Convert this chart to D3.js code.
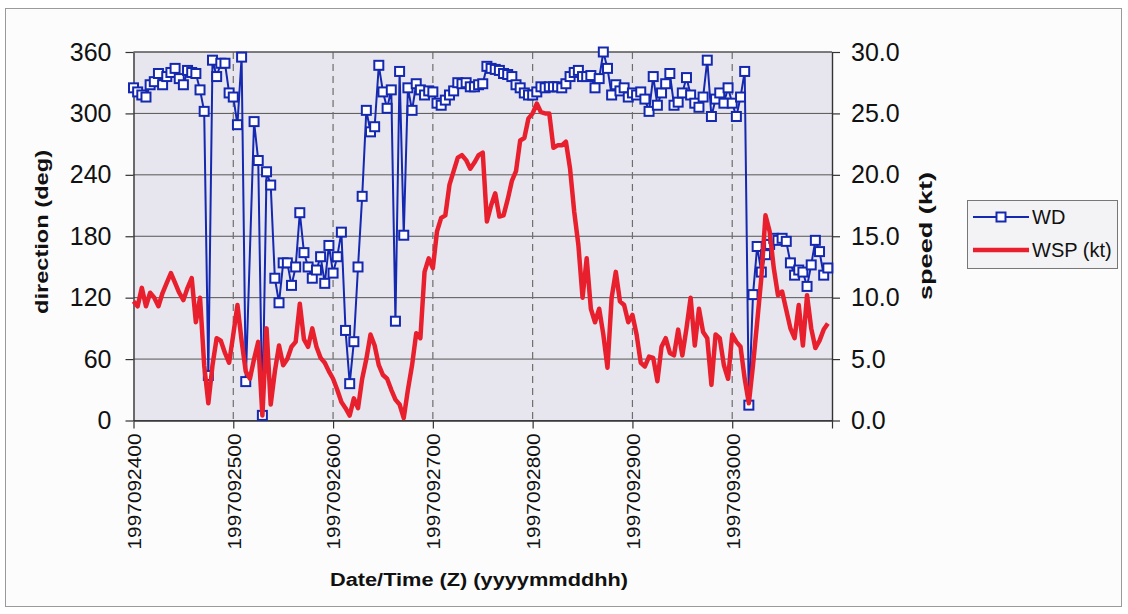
<!DOCTYPE html>
<html>
<head>
<meta charset="utf-8">
<script src="https://cdn.jsdelivr.net/npm/d3@7"></script>
<style>
  body { margin: 0; background: #ffffff; }
  svg { display: block; font-family: Arial, "Liberation Sans", sans-serif; }
</style>
</head>
<body>
<svg id="chart" width="1128" height="614"></svg>
<script>
// Hourly observations, 1997-09-24 00Z to 1997-09-30 23Z
const dayTicks = ["1997092400", "1997092500", "1997092600", "1997092700",
                  "1997092800", "1997092900", "1997093000", ""];

// Wind direction (deg), one value per hour; null = no report
const wd = [
  325, 321, 318, 316, 328, 331, 339, 328, 336, 340,
  344, 334, 328, 342, 340, 339, 323, 302, 44, 352,
  336, 349, 349, 320, 316, 289, 355, 38, null, 292,
  254, 5, 243, 230, 139, 115, 154, 154, 132, 150,
  203, 164, 150, 139, 147, 160, 134, 171, 144, 160,
  184, 88, 36, 77, 150, 219, 303, 282, 287, 347,
  321, 305, 323, 97, 341, 181, 325, 303, 329, 323,
  318, 322, 321, 310, 308, 313, 318, 322, 330, 329,
  330, 326, 326, 328, 329, 346, 344, 343, 342, 339,
  338, 336, 328, 325, 320, 318, 318, 321, 326, 325,
  326, 326, 326, 325, 329, 336, 340, 342, 336, 336,
  337, 325, 334, 360, 344, 318, 328, 322, 325, 316,
  320, 318, 321, 314, 302, 336, 308, 320, 329, 339,
  308, 311, 320, 335, 318, 310, 306, 316, 352, 297,
  314, 320, 310, 325, 310, 297, 316, 341, 15, 123,
  170, 145, 162, 172, 178, 176, 178, 175, 154, 142,
  147, 145, 131, 152, 176, 165, 142, 149
];

// Wind speed (kt), one value per hour
const wsp = [
  9.7, 9.3, 10.8, 9.3, 10.4, 10.0, 9.3, 10.4, 11.2, 12.0,
  11.2, 10.4, 9.8, 10.8, 11.6, 8.0, 10.0, 4.5, 1.4, 4.5,
  6.7, 6.5, 5.5, 4.7, 7.0, 9.4, 6.5, 4.0, 3.4, 5.0,
  6.4, 0.4, 7.5, 1.3, 4.0, 6.1, 4.5, 5.0, 6.0, 6.4,
  9.5, 6.6, 6.0, 7.5, 6.0, 5.1, 4.7, 4.0, 3.4, 2.5,
  1.5, 1.0, 0.4, 1.8, 1.0, 3.4, 5.0, 7.0, 6.1, 4.5,
  3.7, 3.4, 2.5, 1.7, 1.3, 0.2, 2.5, 4.5, 7.1, 6.7,
  12.1, 13.2, 12.4, 15.4, 16.5, 16.7, 19.2, 20.3, 21.4, 21.6,
  21.2, 20.5, 21.0, 21.6, 21.8, 16.2, 17.5, 18.5, 16.6, 16.7,
  18.0, 19.5, 20.3, 22.8, 23.0, 24.6, 25.0, 25.8, 25.1, 25.0,
  25.0, 22.2, 22.4, 22.4, 22.7, 20.5, 17.0, 14.3, 10.0, 13.2,
  9.1, 8.0, 9.1, 7.0, 4.3, 10.0, 12.1, 9.7, 9.4, 8.0,
  8.6, 7.0, 4.7, 4.4, 5.2, 5.1, 3.2, 6.0, 6.7, 5.5,
  5.3, 7.4, 5.3, 7.5, 10.0, 6.1, 9.1, 7.2, 6.7, 2.9,
  7.0, 6.7, 4.5, 3.4, 7.0, 6.4, 6.0, 3.4, 1.4, 4.5,
  8.0, 11.6, 16.7, 15.4, 12.4, 10.2, 10.5, 9.0, 7.5, 6.7,
  9.4, 6.1, 10.2, 7.5, 5.9, 6.5, 7.4, 7.9
];

const dirTicks = [0, 60, 120, 180, 240, 300, 360];
const speedTicks = [0, 5, 10, 15, 20, 25, 30];
const dayHours = [0, 24, 48, 72, 96, 120, 144, 168];

const BLUE = "#1428b0";
const RED = "#e8202e";

const svg = d3.select("#chart");
const plot = { left: 133.5, right: 832, top: 52, bottom: 420.5 };

const x = d3.scaleLinear().domain([0, 168]).range([plot.left, plot.right]);
const yDir = d3.scaleLinear().domain([0, 360]).range([plot.bottom, plot.top]);
const ySpd = d3.scaleLinear().domain([0, 30]).range([plot.bottom, plot.top]);

// outer frame
svg.append("rect")
  .attr("x", 5.5).attr("y", 8.5).attr("width", 1116).attr("height", 598)
  .attr("fill", "#fcfcfc").attr("stroke", "#9a9a9a").attr("stroke-width", 1);

// plot background
svg.append("rect")
  .attr("x", plot.left).attr("y", plot.top)
  .attr("width", plot.right - plot.left).attr("height", plot.bottom - plot.top)
  .attr("fill", "#e7e6ee");

// horizontal gridlines
svg.append("g").selectAll("line").data(dirTicks).join("line")
  .attr("x1", plot.left).attr("x2", plot.right)
  .attr("y1", d => yDir(d)).attr("y2", d => yDir(d))
  .attr("stroke", "#555").attr("stroke-width", 1);

// dashed day separators
svg.append("g").selectAll("line").data(dayHours.slice(1, -1)).join("line")
  .attr("x1", d => x(d)).attr("x2", d => x(d))
  .attr("y1", plot.top).attr("y2", plot.bottom)
  .attr("stroke", "#6e6e6e").attr("stroke-width", 1.2)
  .attr("stroke-dasharray", "7,5");

// axes
const styleAxis = g => {
  g.select(".domain").attr("stroke", "#333").attr("stroke-width", 1.4);
  g.selectAll(".tick line").attr("stroke", "#333").attr("stroke-width", 1.2);
  g.selectAll("text").attr("fill", "#111");
};

svg.append("g")
  .attr("transform", `translate(${plot.left},0)`)
  .call(d3.axisLeft(yDir).tickValues(dirTicks).tickSize(8).tickPadding(14).tickSizeOuter(0))
  .call(styleAxis)
  .call(g => g.selectAll("text").attr("font-size", 25).attr("font-family", "Arial, 'Liberation Sans', sans-serif"));

svg.append("g")
  .attr("transform", `translate(${plot.right},0)`)
  .call(d3.axisRight(ySpd).tickValues(speedTicks).tickFormat(d3.format(".1f"))
        .tickSize(8).tickPadding(11).tickSizeOuter(0))
  .call(styleAxis)
  .call(g => g.selectAll("text").attr("font-size", 25).attr("font-family", "Arial, 'Liberation Sans', sans-serif"));

svg.append("g")
  .attr("transform", `translate(0,${plot.bottom})`)
  .call(d3.axisBottom(x).tickValues(dayHours).tickFormat((d, i) => dayTicks[i])
        .tickSize(8).tickSizeOuter(0))
  .call(styleAxis)
  .call(g => g.selectAll("text")
    .attr("font-size", 19)
    .attr("font-family", "Arial, 'Liberation Sans', sans-serif")
    .attr("transform", "rotate(-90)")
    .attr("text-anchor", "end")
    .attr("x", -13).attr("y", 0).attr("dy", "0.36em")
    .attr("textLength", function () { return this.textContent ? 116 : null; })
    .attr("lengthAdjust", "spacingAndGlyphs"));

// top border of plot
svg.append("line")
  .attr("x1", plot.left).attr("x2", plot.right)
  .attr("y1", plot.top).attr("y2", plot.top)
  .attr("stroke", "#555").attr("stroke-width", 1);

// axis titles
svg.append("text")
  .attr("transform", `translate(48,232) rotate(-90)`)
  .attr("text-anchor", "middle")
  .attr("font-size", 18).attr("font-weight", "bold").attr("fill", "#111")
  .attr("textLength", 164).attr("lengthAdjust", "spacingAndGlyphs")
  .text("direction (deg)");

svg.append("text")
  .attr("transform", `translate(932,236) rotate(-90)`)
  .attr("text-anchor", "middle")
  .attr("font-size", 18).attr("font-weight", "bold").attr("fill", "#111")
  .attr("textLength", 128).attr("lengthAdjust", "spacingAndGlyphs")
  .text("speed (kt)");

svg.append("text")
  .attr("x", 479).attr("y", 586)
  .attr("text-anchor", "middle")
  .attr("font-size", 18).attr("font-weight", "bold").attr("fill", "#111")
  .attr("textLength", 298).attr("lengthAdjust", "spacingAndGlyphs")
  .text("Date/Time (Z) (yyyymmddhh)");

// series
const wdPts = wd.map((v, h) => ({ h, v })).filter(d => d.v !== null);
const wspPts = wsp.map((v, h) => ({ h, v }));

const series = svg.append("g");

series.append("path")
  .datum(wdPts)
  .attr("fill", "none").attr("stroke", BLUE).attr("stroke-width", 2)
  .attr("stroke-linejoin", "round")
  .attr("d", d3.line().x(d => x(d.h)).y(d => yDir(d.v)));

series.append("g").selectAll("rect").data(wdPts).join("rect")
  .attr("x", d => x(d.h) - 4.5).attr("y", d => yDir(d.v) - 4.5)
  .attr("width", 9).attr("height", 9)
  .attr("fill", "#ffffff").attr("stroke", BLUE).attr("stroke-width", 2);

series.append("path")
  .datum(wspPts)
  .attr("fill", "none").attr("stroke", RED).attr("stroke-width", 4.5)
  .attr("stroke-linejoin", "round")
  .attr("d", d3.line().x(d => x(d.h)).y(d => ySpd(d.v)));

// legend
const lg = svg.append("g");
lg.append("rect")
  .attr("x", 967.5).attr("y", 200.5).attr("width", 150).attr("height", 68)
  .attr("fill", "#f3f3f5").attr("stroke", "#777").attr("stroke-width", 1);
lg.append("line").attr("x1", 973).attr("x2", 1029).attr("y1", 217).attr("y2", 217)
  .attr("stroke", BLUE).attr("stroke-width", 2);
lg.append("rect").attr("x", 996.5).attr("y", 212.5).attr("width", 9).attr("height", 9)
  .attr("fill", "#fff").attr("stroke", BLUE).attr("stroke-width", 2);
lg.append("text").attr("x", 1032).attr("y", 224).attr("font-size", 20).attr("fill", "#111").text("WD");
lg.append("line").attr("x1", 973).attr("x2", 1029).attr("y1", 250).attr("y2", 250)
  .attr("stroke", RED).attr("stroke-width", 4.5);
lg.append("text").attr("x", 1032).attr("y", 257).attr("font-size", 20).attr("fill", "#111").text("WSP (kt)");
</script>
</body>
</html>
